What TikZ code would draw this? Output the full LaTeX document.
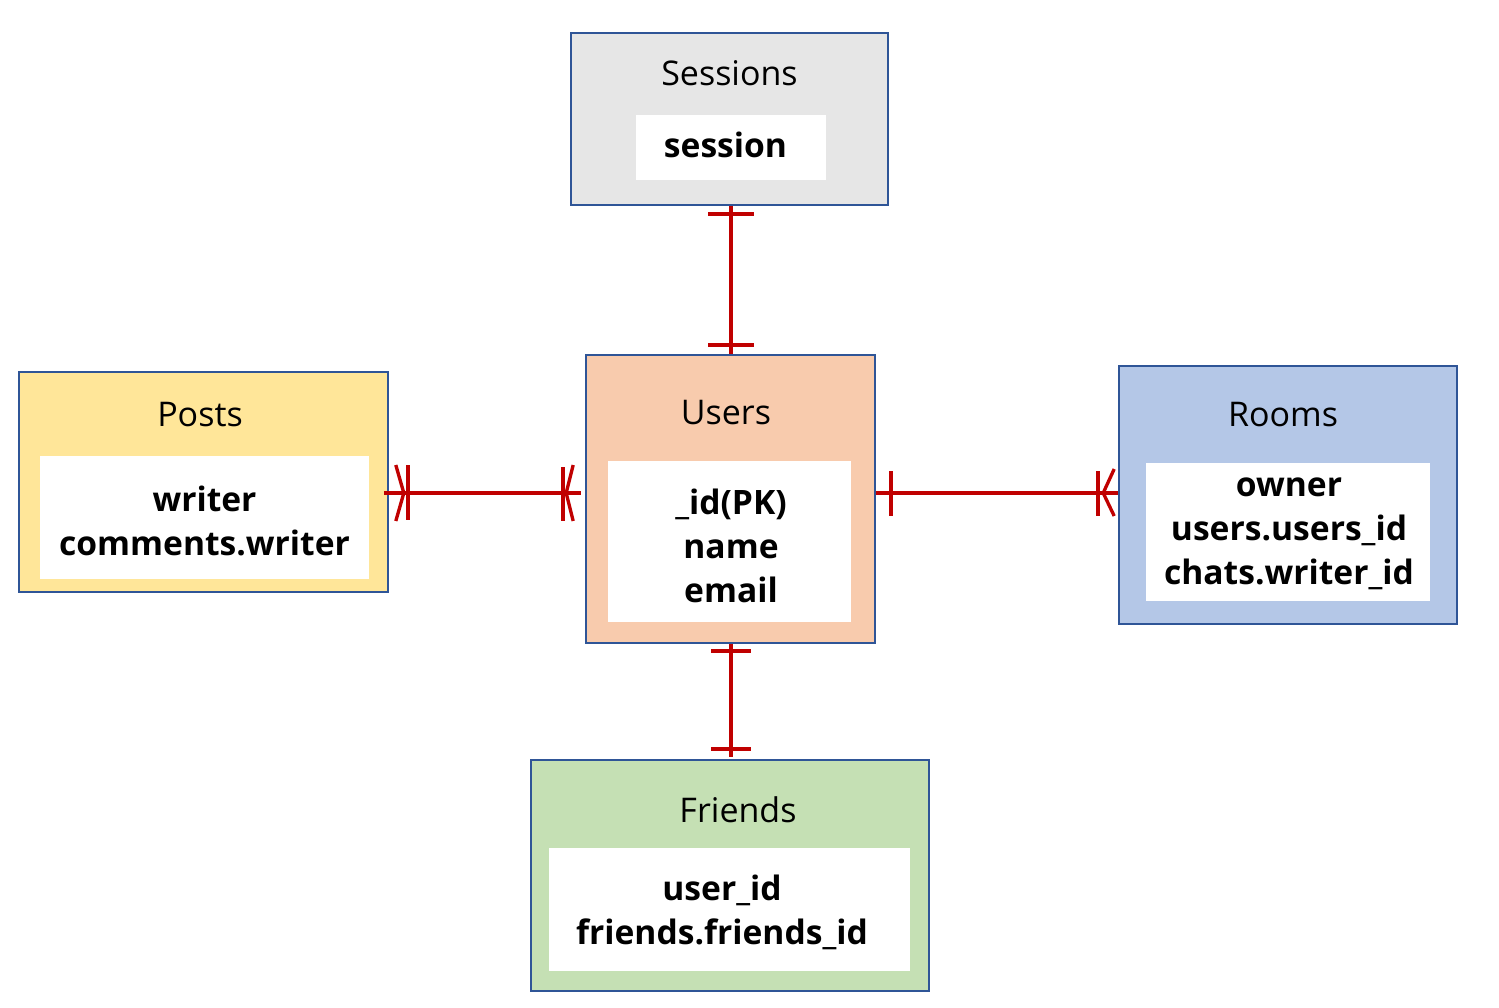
\documentclass[tikz,border=0pt]{standalone}
\usepackage{fontspec}
\setmainfont{Open Sans}
\definecolor{bord}{HTML}{2F5597}
\definecolor{rel}{HTML}{C00000}
\definecolor{sessfill}{HTML}{E6E6E6}
\definecolor{userfill}{HTML}{F8CBAD}
\definecolor{postfill}{HTML}{FFE699}
\definecolor{roomfill}{HTML}{B4C7E7}
\definecolor{friendfill}{HTML}{C5E0B4}
\tikzset{
  entity/.style={draw=bord, line width=1.2pt, inner sep=0pt},
  inner/.style={fill=white, inner sep=0pt},
  itext/.style={inner sep=0pt, align=center, font=\fontsize{25.2}{33}\selectfont\bfseries},
  title/.style={inner sep=0pt, font=\fontsize{25.5}{30}\selectfont},
  rline/.style={draw=rel, line width=3pt},
}
\begin{document}
\begin{tikzpicture}[x=0.75pt,y=-0.75pt]
\useasboundingbox (0,0) rectangle (1499,1007);
% entity boxes
\node[entity, fill=sessfill, minimum width=317*0.75pt, minimum height=172*0.75pt] (sessions) at (729.5,119) {};
\node[entity, fill=userfill, minimum width=289*0.75pt, minimum height=288*0.75pt] (users) at (730.5,499) {};
\node[entity, fill=postfill, minimum width=369*0.75pt, minimum height=220*0.75pt] (posts) at (203.5,482) {};
\node[entity, fill=roomfill, minimum width=338*0.75pt, minimum height=258*0.75pt] (rooms) at (1288,495) {};
\node[entity, fill=friendfill, minimum width=398*0.75pt, minimum height=231*0.75pt] (friends) at (730,875.5) {};
% titles
\node[title] (tsessions) at (729.5,73) {Sessions};
\node[title] (tusers) at (726,413) {Users};
\node[title] (tposts) at (200,415) {Posts};
\node[title] (trooms) at (1283,415) {Rooms};
\node[title] (tfriends) at (738,810) {Friends};
% inner white boxes
\node[inner, minimum width=190*0.75pt, minimum height=65*0.75pt] (isessions) at (731,147.5) {};
\node[inner, minimum width=243*0.75pt, minimum height=161*0.75pt] (iusers) at (729.5,541.5) {};
\node[inner, minimum width=329*0.75pt, minimum height=123*0.75pt] (iposts) at (204.5,517.5) {};
\node[inner, minimum width=284*0.75pt, minimum height=138*0.75pt] (irooms) at (1288,532) {};
\node[inner, minimum width=361*0.75pt, minimum height=123*0.75pt] (ifriends) at (729.5,909.5) {};
% field texts
\node[itext] (xsessions) at (725.5,145) {session};
\node[itext] (xusers) at (731,546) {\_id(PK)\\name\\email};
\node[itext] (xposts) at (204.5,521) {writer\\comments.writer};
\node[itext] (xrooms) at (1289,534) {owner\\users.users\_id\\chats.writer\_id};
\node[itext] (xfriends) at (722,912) {user\_id\\friends.friends\_id};
% Sessions -- Users (one to one)
\coordinate (su1) at ([xshift=1.5*0.75pt]sessions.south);
\coordinate (su2) at ([xshift=0.5*0.75pt]users.north);
\draw[rline] (su1) -- (su2 |- su1) -- (su2);
\draw[rline] ([shift={(-23,8)}]su1) -- ([shift={(23,8)}]su1);
\draw[rline] ([shift={(-23,-9)}]su2) -- ([shift={(23,-9)}]su2);
% Users -- Friends (one to one)
\coordinate (uf1) at ([xshift=0.5*0.75pt]users.south);
\coordinate (uf2) at (uf1 |- friends.north);
\draw[rline] (uf1) -- ([yshift=2*0.75pt]uf2);
\draw[rline] ([shift={(-20,7)}]uf1) -- ([shift={(20,7)}]uf1);
\draw[rline] ([shift={(-20,-10)}]uf2) -- ([shift={(20,-10)}]uf2);
% Posts -- Users (many to many)
\coordinate (pu1) at ([shift={(-5,11)}]posts.east);
\coordinate (pu2) at ([shift={(-4,-6)}]users.west);
\draw[rline] (pu1) -- (pu2);
\draw[rline, line width=2.5pt] ([shift={(12,-28)}]pu1) -- ([shift={(20,0)}]pu1) -- ([shift={(12,28)}]pu1);
\draw[rline] ([shift={(24,-28)}]pu1) -- ([shift={(24,27)}]pu1);
\draw[rline, line width=2.5pt] ([shift={(-8,-28)}]pu2) -- ([shift={(-15,0)}]pu2) -- ([shift={(-8,28)}]pu2);
\draw[rline] ([shift={(-18,-26)}]pu2) -- ([shift={(-18,28)}]pu2);
% Users -- Rooms (one to many)
\coordinate (ur1) at ([yshift=6*0.75pt]users.east);
\coordinate (ur2) at (rooms.west |- ur1);
\draw[rline] (ur1) -- (ur2);
\draw[rline] ([shift={(15,-22)}]ur1) -- ([shift={(15,23)}]ur1);
\draw[rline] ([shift={(-20,-22)}]ur2) -- ([shift={(-20,23)}]ur2);
\draw[rline, line width=2.5pt] ([shift={(-4,-24)}]ur2) -- ([shift={(-15,0)}]ur2) -- ([shift={(-4,23)}]ur2);
\end{tikzpicture}
\end{document}
